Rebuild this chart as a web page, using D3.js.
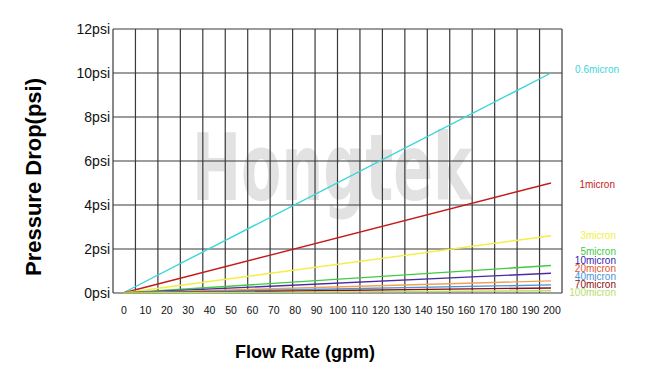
<!DOCTYPE html>
<html>
<head>
<meta charset="utf-8">
<script src="https://cdn.jsdelivr.net/npm/d3@7"></script>
<style>
	body { margin: 0; background: #fff; }
	svg { display: block; font-family: "Liberation Sans", Arial, sans-serif; }
</style>
</head>
<body>
<div id="chart"></div>
<script>
// data
const flowRates = [0, 200];
const seriesNames = ["0.6micron", "1micron", "3micron", "5micron", "10micron", "20micron", "40micron", "70micron", "100micron"];
const dropAt200 = [10, 5, 2.6, 1.25, 0.9, 0.55, 0.37, 0.23, 0.1];
const lineColors = ["#3ad6d9", "#c41a1a", "#f2ee44", "#3fcc3f", "#4b2aa6", "#efa352", "#4d93d9", "#8c1010", "#b6e06a"];
const labelColors = ["#3ad6d9", "#c41a1a", "#f2ee44", "#3fcc3f", "#3a1fa8", "#e0552f", "#4d93d9", "#8c1010", "#b6e06a"];
const xTicks = d3.range(0, 201, 10);
const yTicks = [0, 2, 4, 6, 8, 10, 12];

const width = 645;
const height = 372;
const plotLeft = 113, plotRight = 562, plotTop = 29, plotBottom = 293;

const svg = d3.select("#chart")
	.append("svg")
	.attr("width", width)
	.attr("height", height);

const x = d3.scaleLinear().domain([0, 200]).range([123, 551]);
const y = d3.scaleLinear().domain([0, 12]).range([plotBottom, plotTop]);
// grid columns are not tied to the ticks
const gridCol = d3.scaleLinear().domain([0, 20]).range([plotLeft, plotRight]);

// watermark
svg.append("text")
	.attr("x", 192)
	.attr("y", 200)
	.attr("textLength", 280)
	.attr("lengthAdjust", "spacingAndGlyphs")
	.attr("font-family", "DejaVu Sans Condensed")
	.attr("font-weight", "bold")
	.attr("font-size", 92)
	.attr("fill", "#e2e2e2")
	.text("Hongtek");

// grid
svg.append("g")
	.selectAll("line")
	.data(d3.range(21))
	.enter()
	.append("line")
	.attr("x1", (d) => gridCol(d))
	.attr("x2", (d) => gridCol(d))
	.attr("y1", plotTop)
	.attr("y2", plotBottom)
	.attr("stroke", "#3a3a3a")
	.attr("stroke-width", 1.2);

svg.append("g")
	.selectAll("line")
	.data(yTicks)
	.enter()
	.append("line")
	.attr("x1", plotLeft)
	.attr("x2", plotRight)
	.attr("y1", (d) => y(d))
	.attr("y2", (d) => y(d))
	.attr("stroke", "#3a3a3a")
	.attr("stroke-width", 1.2);

// y tick labels
svg.append("g")
	.selectAll("text")
	.data(yTicks)
	.enter()
	.append("text")
	.attr("x", plotLeft - 3)
	.attr("y", (d) => y(d) + 5)
	.attr("text-anchor", "end")
	.attr("font-size", 14)
	.attr("fill", "#111")
	.text((d) => d + "psi");

// x tick labels
svg.append("g")
	.selectAll("text")
	.data(xTicks)
	.enter()
	.append("text")
	.attr("x", (d) => x(d) + 1)
	.attr("y", 314)
	.attr("text-anchor", "middle")
	.attr("font-size", 10.5)
	.attr("fill", "#111")
	.text((d) => d);

// lines
const line = d3.line()
	.x((d) => x(d[0]))
	.y((d) => y(d[1]));

svg.append("g")
	.selectAll("path")
	.data(seriesNames)
	.enter()
	.append("path")
	.attr("d", (d, i) => line(flowRates.map((f) => [f, dropAt200[i] * f / 200])))
	.attr("fill", "none")
	.attr("stroke", (d, i) => lineColors[i])
	.attr("stroke-width", 1.4);

// series labels
const labelY = [69, 184, 235, 251.5, 260, 268, 276.5, 284.5, 292.5];
svg.append("g")
	.selectAll("text")
	.data(seriesNames)
	.enter()
	.append("text")
	.attr("x", (d, i) => i < 2 ? 619 - (i == 1 ? 4 : 0) : 616)
	.attr("y", (d, i) => labelY[i] + 3.5)
	.attr("text-anchor", "end")
	.attr("font-size", 10)
	.attr("fill", (d, i) => labelColors[i])
	.text((d) => d);

// axis titles
svg.append("text")
	.attr("transform", "translate(41,177) rotate(-90)")
	.attr("text-anchor", "middle")
	.attr("font-size", 22)
	.attr("font-weight", "bold")
	.attr("fill", "#000")
	.text("Pressure Drop(psi)");

svg.append("text")
	.attr("x", 305)
	.attr("y", 358)
	.attr("text-anchor", "middle")
	.attr("font-size", 18)
	.attr("font-weight", "bold")
	.attr("fill", "#000")
	.text("Flow Rate (gpm)");
</script>
</body>
</html>
